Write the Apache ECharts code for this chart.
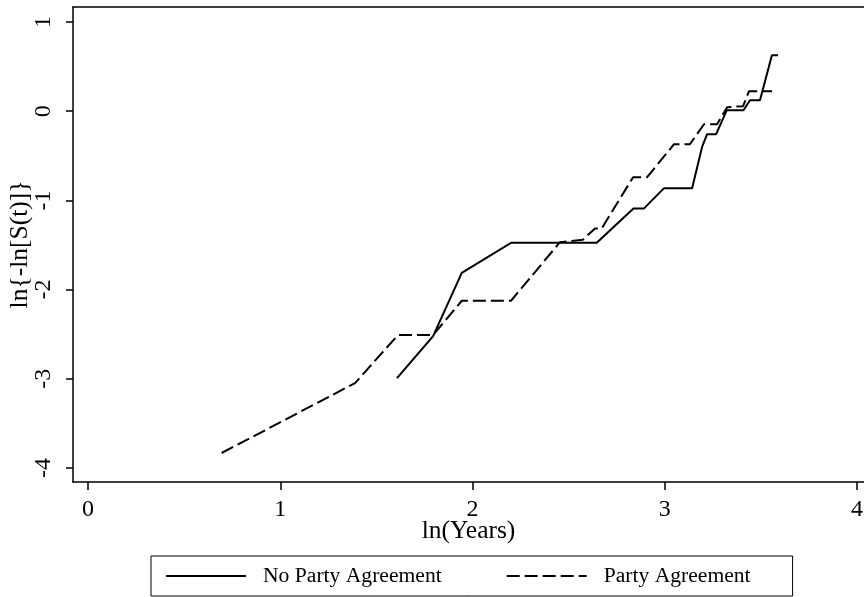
<!DOCTYPE html>
<html>
<head>
<meta charset="utf-8">
<script src="https://cdn.jsdelivr.net/npm/echarts@6/dist/echarts.min.js"></script>
<style>
  html, body { margin: 0; padding: 0; background: #fff; }
  #chart { width: 864px; height: 597px; }
</style>
</head>
<body>
<div id="chart"></div>
<script>
// ln(analysis time) and ln{-ln[S(t)]} for each group
const seriesNames = ['No Party Agreement', 'Party Agreement'];

const noPartyX = [1.607, 1.795, 1.944, 2.200, 2.646, 2.837, 2.892, 2.996, 3.142, 3.194, 3.220, 3.267, 3.322, 3.409, 3.443, 3.495, 3.557, 3.589];
const noPartyY = [-2.992, -2.521, -1.812, -1.476, -1.476, -1.090, -1.090, -0.863, -0.863, -0.40, -0.258, -0.258, 0.01, 0.01, 0.123, 0.123, 0.627, 0.627];

const partyX = [0.695, 1.389, 1.612, 1.795, 1.944, 2.200, 2.455, 2.575, 2.637, 2.672, 2.835, 2.908, 3.048, 3.131, 3.204, 3.272, 3.324, 3.407, 3.438, 3.558];
const partyY = [-3.832, -3.048, -2.510, -2.510, -2.125, -2.125, -1.468, -1.44, -1.314, -1.314, -0.74, -0.74, -0.37, -0.37, -0.146, -0.146, 0.045, 0.056, 0.224, 0.224];

const xTicks = [0, 1, 2, 3, 4];
const yTicks = [-4, -3, -2, -1, 0, 1];

const zip = (xs, ys) => xs.map((x, i) => [x, ys[i]]);

const serif = 'Liberation Serif';
const frameLine = { color: '#000', width: 1.5 };
const chart = echarts.init(document.getElementById('chart'), null, { renderer: 'canvas' });

chart.setOption({
  backgroundColor: '#fff',
  animation: false,
  grid: { left: 73, top: 7, right: 0, bottom: 115, outerBoundsMode: 'none', containLabel: false },
  xAxis: [
    {
      type: 'value',
      min: -0.078, max: 4.036,
      name: 'ln(Years)',
      nameLocation: 'middle',
      nameGap: 36,
      nameMoveOverlap: false,
      nameTextStyle: { fontFamily: serif, fontSize: 25.5, color: '#000' },
      splitLine: { show: false },
      axisLine: { show: true, onZero: false, lineStyle: frameLine },
      axisTick: { show: true, length: 8, lineStyle: frameLine, customValues: xTicks },
      axisLabel: { fontFamily: serif, fontSize: 24, color: '#000', margin: 16, customValues: xTicks }
    },
    {
      // top edge of the plot frame
      type: 'value', position: 'top',
      min: -0.078, max: 4.036,
      splitLine: { show: false },
      axisLine: { show: true, onZero: false, lineStyle: frameLine },
      axisTick: { show: false },
      axisLabel: { show: false }
    }
  ],
  yAxis: {
    type: 'value',
    min: -4.157, max: 1.168,
    name: 'ln{-ln[S(t)]}',
    nameLocation: 'middle',
    nameGap: 40,
    nameRotate: 90,
    nameMoveOverlap: false,
    nameTextStyle: { fontFamily: serif, fontSize: 25.5, color: '#000' },
    splitLine: { show: false },
    axisLine: { show: true, onZero: false, lineStyle: frameLine },
    axisTick: { show: true, length: 7, lineStyle: frameLine, customValues: yTicks },
    axisLabel: { fontFamily: serif, fontSize: 24, color: '#000', margin: 17, rotate: 90, customValues: yTicks }
  },
  legend: {
    left: 151, top: 556,
    padding: [9, 42, 9, 14],
    itemWidth: 80, itemHeight: 20, itemGap: 64,
    borderColor: '#000', borderWidth: 1,
    itemStyle: { opacity: 0 },
    textStyle: { fontFamily: serif, fontSize: 21.6, color: '#000', padding: [0, 0, 0, 12] },
    data: seriesNames
  },
  series: [
    {
      name: seriesNames[0], type: 'line', symbol: 'none',
      lineStyle: { color: '#000', width: 2 },
      itemStyle: { color: '#000' },
      data: zip(noPartyX, noPartyY)
    },
    {
      name: seriesNames[1], type: 'line', symbol: 'none',
      lineStyle: { color: '#000', width: 2, type: [13, 5] },
      itemStyle: { color: '#000' },
      data: zip(partyX, partyY)
    }
  ]
});
</script>
</body>
</html>
